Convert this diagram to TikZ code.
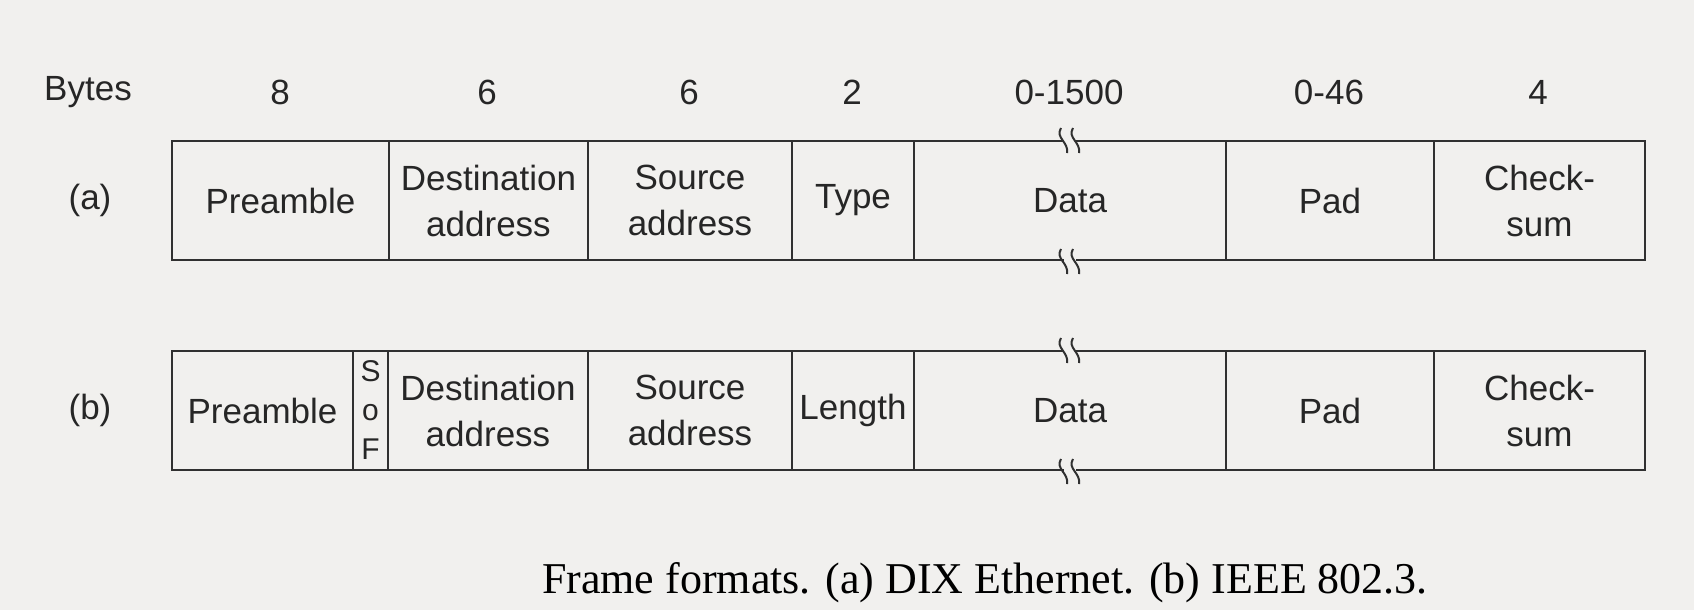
\documentclass[tikz,border=0pt]{standalone}
\usepackage{fontspec}
\setmainfont{Liberation Sans}
\newfontfamily\capfont{Liberation Serif}
\usetikzlibrary{calc}
\definecolor{bgc}{HTML}{F1F0EE}
\definecolor{linec}{HTML}{303030}
\definecolor{txtc}{HTML}{262626}
\newcommand\brkmark[1]{%
  \fill[bgc] ($(#1)+(-6,-3)$) rectangle ($(#1)+(6,3)$);
  \draw[linec,line width=2pt] ($(#1)+(-9,-12)$) .. controls ($(#1)+(-15,-2)$) and ($(#1)+(-1,2)$) .. ($(#1)+(-3,13)$);
  \draw[linec,line width=2pt] ($(#1)+(3,-12)$) .. controls ($(#1)+(-3,-2)$) and ($(#1)+(11,2)$) .. ($(#1)+(9,13)$);
}
\begin{document}
\begin{tikzpicture}[x=1pt,y=-1pt,
  fld/.style={draw=linec, line width=2pt, minimum height=119pt, inner sep=0pt,
    anchor=north west, align=center, text=txtc, font=\fontsize{35}{46}\selectfont},
  hdr/.style={text=txtc, inner sep=0pt, font=\fontsize{35}{42}\selectfont},
  sof/.style={fld, font=\fontsize{30}{39}\selectfont}]
\fill[bgc] (0,0) rectangle (1694,610);
\useasboundingbox (0,0) rectangle (1694,610);
% header
\node[hdr] (bytes) at (88,92) {Bytes};
\node[hdr] (h1) at (280,92) {8};
\node[hdr] (h2) at (487,92) {6};
\node[hdr] (h3) at (689,92) {6};
\node[hdr] (h4) at (852,92) {2};
\node[hdr] (h5) at (1069,92) {0-1500};
\node[hdr] (h6) at (1329,92) {0-46};
\node[hdr] (h7) at (1538,92) {4};
% row labels
\node[hdr] (la) at (90,200) {(a)};
\node[hdr] (lb) at (90,410) {(b)};
% frame (a)
\node[fld, minimum width=217pt] (a1) at (171,140) {Preamble};
\node[fld, minimum width=199pt] (a2) at (388,140) {Destination\\address};
\node[fld, minimum width=204pt] (a3) at (587,140) {Source\\address};
\node[fld, minimum width=122pt] (a4) at (791,140) {Type};
\node[fld, minimum width=312pt] (a5) at (913,140) {Data};
\node[fld, minimum width=208pt] (a6) at (1225,140) {Pad};
\node[fld, minimum width=211pt] (a7) at (1433,140) {Check-\\sum};
% frame (b)
\node[fld, minimum width=181pt] (b1) at (171,350) {Preamble};
\node[sof, minimum width=35pt] (b2) at (352,350) {S\\o\\F};
\node[fld, minimum width=200pt] (b3) at (387,350) {Destination\\address};
\node[fld, minimum width=204pt] (b4) at (587,350) {Source\\address};
\node[fld, minimum width=122pt] (b5) at (791,350) {Length};
\node[fld, minimum width=312pt] (b6) at (913,350) {Data};
\node[fld, minimum width=208pt] (b7) at (1225,350) {Pad};
\node[fld, minimum width=211pt] (b8) at (1433,350) {Check-\\sum};
% break marks
\brkmark{a5.north}
\brkmark{a5.south}
\brkmark{b6.north}
\brkmark{b6.south}
% caption
\node[text=black, inner sep=0pt, font=\capfont\fontsize{44}{50}\selectfont] (cap) at (985,583) {Frame formats. (a) DIX Ethernet. (b) IEEE 802.3.};
\end{tikzpicture}
\end{document}
